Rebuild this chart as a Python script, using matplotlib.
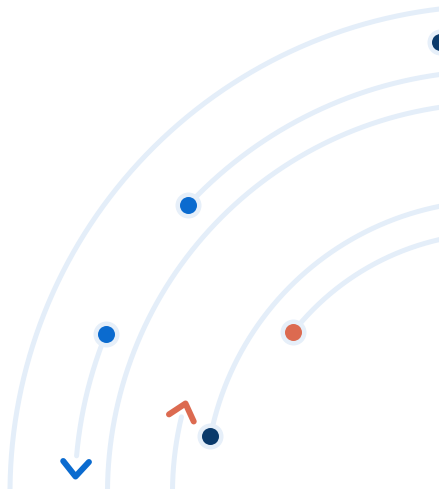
import numpy as np
import matplotlib
matplotlib.use("Agg")
import matplotlib.pyplot as plt
from matplotlib.markers import MarkerStyle
from matplotlib.path import Path
from matplotlib.transforms import Affine2D

W, H, DPI = 439, 489, 100
PT = 72.0 / DPI  # points per pixel

# ---- data: concentric tracks (radius in px units, angles in degrees) ----
track_radius = [487, 454.5, 422, 389.5, 292, 259.5, 422, 324.5]
track_start = [80, 80, 80, 80, 80, 80, 157.9, 166.5]
track_end = [185, 97.2, 137.1, 185, 168.9, 141.9, 175.0, 185]

dot_radius = [454.5, 422, 422, 292, 259.5]
dot_angle = [97.2, 137.1, 157.9, 168.9, 141.9]
dot_kind = ["navy", "blue", "blue", "navy", "orange"]

arrow_radius = [422, 324.5]
arrow_angle = [177.8, 164.0]
arrow_dir = [1, -1]
arrow_kind = ["blue", "orange"]

# ---- style ----
colors = {"navy": "#0a3a6b", "blue": "#0b6bcf", "orange": "#dc6a50"}
track_color = "#e4eef9"
halo_color = "#e6eff9"
center_px = (497, 493)   # from top-left of the image
rmax = 520

FW, FH = W + 0.4, H + 0.4
fig = plt.figure(figsize=(FW / DPI, FH / DPI), dpi=DPI)
cx, cy = center_px[0], FH - center_px[1]
ax = fig.add_axes([(cx - rmax) / FW, (cy - rmax) / FH, 2 * rmax / FW, 2 * rmax / FH],
                  projection="polar")
ax.set_rlim(0, rmax)
ax.set_axis_off()

for r, a0, a1 in zip(track_radius, track_start, track_end):
    th = np.radians(np.linspace(a0, a1, 400))
    ax.plot(th, np.full_like(th, r), color=track_color, lw=5 * PT,
            solid_capstyle="round", zorder=1)

# arrows (chevrons)
chev = Path([(-14, 12), (0, 0), (-14, -12)],
            [Path.MOVETO, Path.LINETO, Path.LINETO])
for r, a, d, k in zip(arrow_radius, arrow_angle, arrow_dir, arrow_kind):
    phi = a + 90 * d
    m = MarkerStyle(chev, fillstyle="none",
                    transform=Affine2D().rotate_deg(phi),
                    capstyle="round", joinstyle="round")
    ax.plot([np.radians(a)], [r], linestyle="none", marker=m,
            markersize=30 * PT, markeredgecolor=colors[k],
            markeredgewidth=6 * PT, zorder=3)

# dots with halo
for r, a, k in zip(dot_radius, dot_angle, dot_kind):
    ax.plot([np.radians(a)], [r], "o", ms=26 * PT, color=halo_color,
            mec="none", zorder=4)
    ax.plot([np.radians(a)], [r], "o", ms=17 * PT, color=colors[k],
            mec="none", zorder=5)

fig.savefig("out.png", dpi=DPI, facecolor="white")
